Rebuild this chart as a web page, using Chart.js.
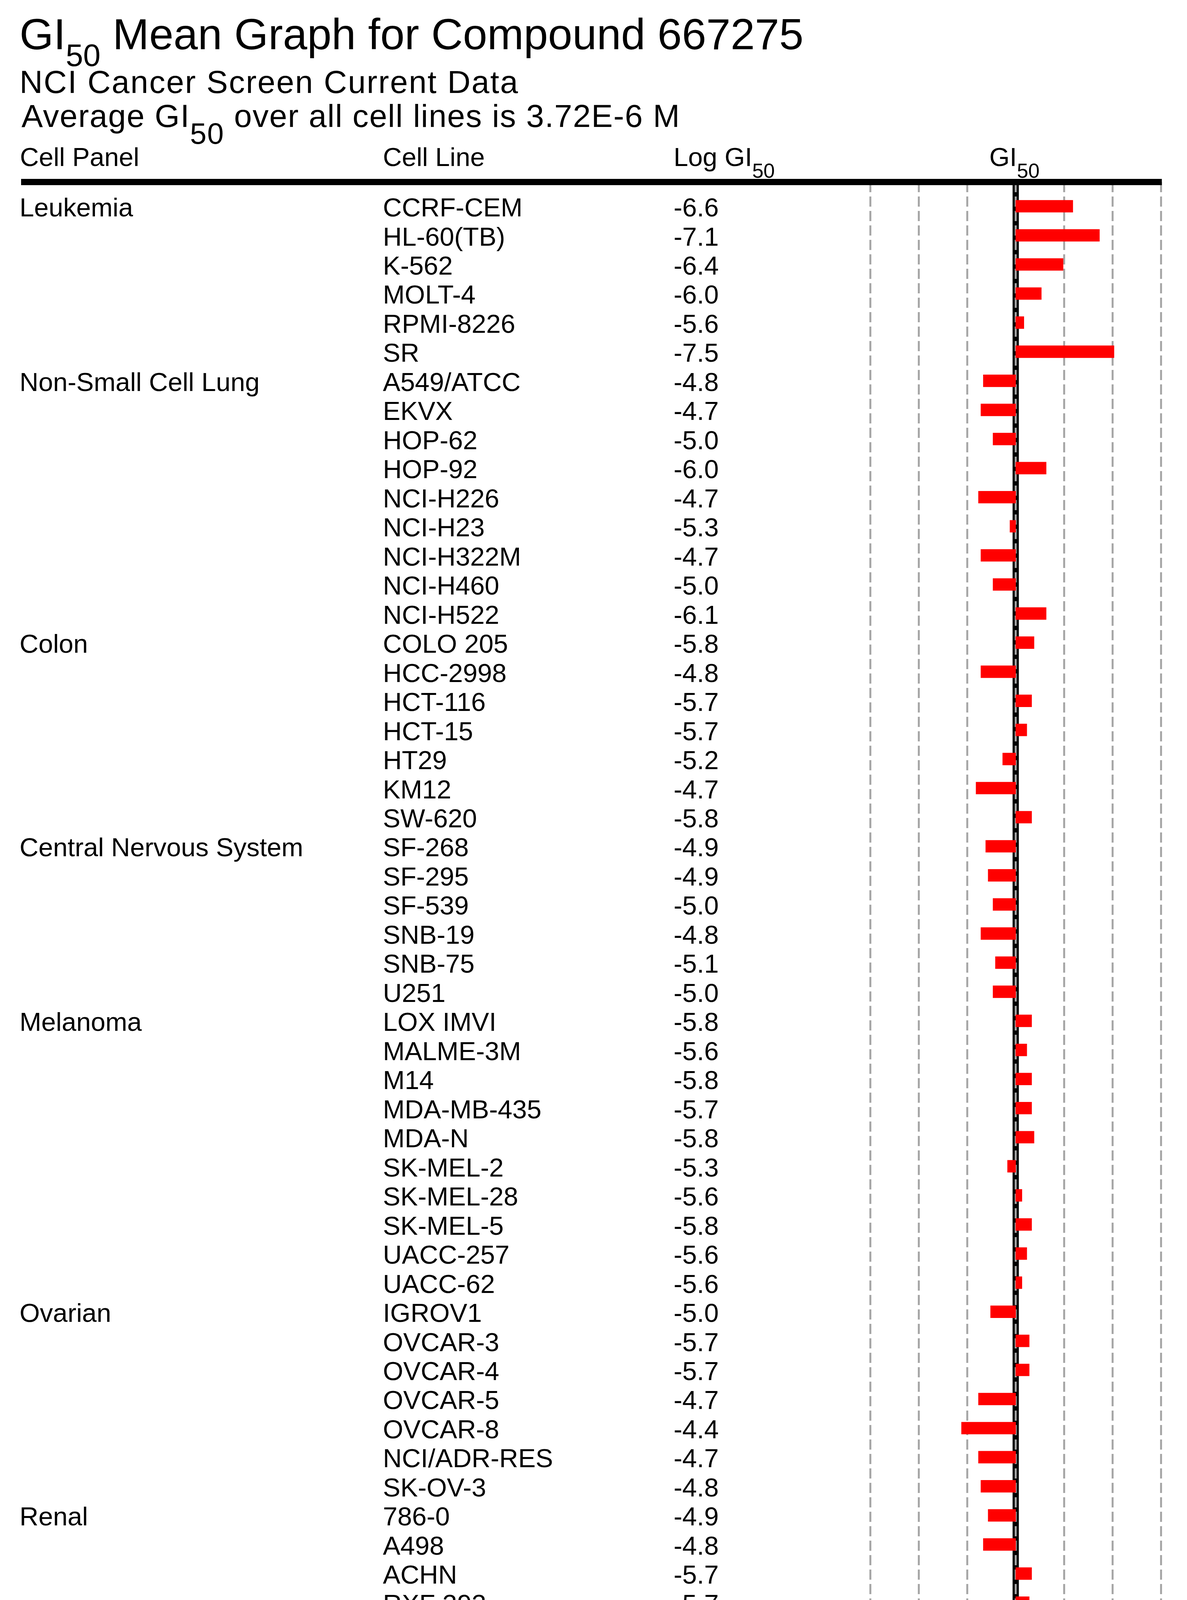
<!DOCTYPE html>
<html>
<head>
<meta charset="utf-8">
<title>GI50 Mean Graph for Compound 667275</title>
<script src="https://cdn.jsdelivr.net/npm/chart.js@4.4.1/dist/chart.umd.min.js"></script>
<style>
  html, body { margin: 0; padding: 0; background: #fff; }
  #page { position: relative; width: 3038px; height: 4975px; font-family: "Liberation Sans", Arial, Helvetica, sans-serif; color: #000; }
  #graph { position: absolute; left: 0; top: 0; }
  .txt { position: absolute; white-space: nowrap; line-height: 1; }
</style>
</head>
<body>
<div id="page">
  <canvas id="graph" width="3038" height="4975"></canvas>
  <div class="txt" style="left:50px; top:32px; font-size:112px">GI<span style="font-size:80px; vertical-align:-43px">50</span> Mean Graph for Compound 667275</div>
  <div class="txt" style="left:50px; top:169px; font-size:82px; letter-spacing:2.5px">NCI Cancer Screen Current Data</div>
  <div class="txt" style="left:55px; top:256px; font-size:82px; letter-spacing:1.8px">Average GI<span style="font-size:76px; vertical-align:-43px">50</span> over all cell lines is 3.72E-6 M</div>
  <div class="txt" style="left:51px; top:368px; font-size:67px">Cell Panel</div>
  <div class="txt" style="left:980px; top:368px; font-size:67px">Cell Line</div>
  <div class="txt" style="left:1724px; top:368px; font-size:67px">Log GI<span style="font-size:52px; vertical-align:-30px">50</span></div>
  <div class="txt" style="left:2532px; top:368px; font-size:67px">GI<span style="font-size:52px; vertical-align:-30px">50</span></div>
</div>
<script>
// panels and how many cell lines each one has, in order
const cellPanels = ['Leukemia', 'Non-Small Cell Lung', 'Colon', 'Central Nervous System',
  'Melanoma', 'Ovarian', 'Renal', 'Prostate', 'Breast']
const panelSizes = [6, 9, 7, 6, 10, 7, 7, 2, 5]

const cellLines = [
  'CCRF-CEM', 'HL-60(TB)', 'K-562', 'MOLT-4', 'RPMI-8226', 'SR',
  'A549/ATCC', 'EKVX', 'HOP-62', 'HOP-92', 'NCI-H226', 'NCI-H23', 'NCI-H322M', 'NCI-H460', 'NCI-H522',
  'COLO 205', 'HCC-2998', 'HCT-116', 'HCT-15', 'HT29', 'KM12', 'SW-620',
  'SF-268', 'SF-295', 'SF-539', 'SNB-19', 'SNB-75', 'U251',
  'LOX IMVI', 'MALME-3M', 'M14', 'MDA-MB-435', 'MDA-N', 'SK-MEL-2', 'SK-MEL-28', 'SK-MEL-5', 'UACC-257', 'UACC-62',
  'IGROV1', 'OVCAR-3', 'OVCAR-4', 'OVCAR-5', 'OVCAR-8', 'NCI/ADR-RES', 'SK-OV-3',
  '786-0', 'A498', 'ACHN', 'RXF 393', 'SN12C', 'TK-10', 'UO-31',
  'PC-3', 'DU-145',
  'MCF7', 'MDA-MB-231/ATCC', 'HS 578T', 'BT-549', 'T-47D'
]

const logGI50 = [
  '-6.6', '-7.1', '-6.4', '-6.0', '-5.6', '-7.5',
  '-4.8', '-4.7', '-5.0', '-6.0', '-4.7', '-5.3', '-4.7', '-5.0', '-6.1',
  '-5.8', '-4.8', '-5.7', '-5.7', '-5.2', '-4.7', '-5.8',
  '-4.9', '-4.9', '-5.0', '-4.8', '-5.1', '-5.0',
  '-5.8', '-5.6', '-5.8', '-5.7', '-5.8', '-5.3', '-5.6', '-5.8', '-5.6', '-5.6',
  '-5.0', '-5.7', '-5.7', '-4.7', '-4.4', '-4.7', '-4.8',
  '-4.9', '-4.8', '-5.7', '-5.7', '-5.5', '-5.6', '-5.8',
  '-5.0', '-5.1',
  '-5.7', '-5.7', '-5.1', '-5.7', '-5.7'
]

// bar length = difference from the mean log GI50
const barValues = [
  1.18, 1.73, 0.98, 0.53, 0.17, 2.03,
  -0.67, -0.72, -0.47, 0.63, -0.77, -0.12, -0.72, -0.47, 0.63,
  0.38, -0.72, 0.33, 0.23, -0.27, -0.82, 0.33,
  -0.62, -0.57, -0.47, -0.72, -0.42, -0.47,
  0.33, 0.23, 0.33, 0.33, 0.38, -0.17, 0.13, 0.33, 0.23, 0.13,
  -0.52, 0.28, 0.28, -0.77, -1.12, -0.77, -0.72,
  -0.57, -0.67, 0.33, 0.28, 0.08, 0.23, 0.33,
  -0.47, -0.42,
  0.28, 0.28, -0.37, 0.23, 0.28
]

const FONT = '"Liberation Sans", Arial, Helvetica, sans-serif'

// the heavy rules sit a third of a row inside the category bands
function ruleRows(chart) {
  const a = chart.chartArea
  const band = (a.bottom - a.top) / cellLines.length
  return { top: a.top - band / 3, bottom: a.bottom - band / 3 }
}

// zero line, dashed grid and the two heavy rules, all under the bars
const frameLines = {
  id: 'frameLines',
  beforeDatasetsDraw(chart) {
    const {ctx, chartArea: a, scales: {x}} = chart
    const r = ruleRows(chart)
    const x0 = x.getPixelForValue(0)
    ctx.save()
    ctx.fillStyle = '#000'
    ctx.fillRect(x0 - 8, r.top, 16, r.bottom - r.top)

    ctx.strokeStyle = '#a6a6a6'
    ctx.lineWidth = 5
    ctx.setLineDash([26, 11])
    x.ticks.forEach(t => {
      const px = x.getPixelForValue(t.value)
      ctx.beginPath()
      ctx.moveTo(px, r.top)
      ctx.lineTo(px, r.bottom)
      ctx.stroke()
    })
    ctx.setLineDash([])

    ctx.fillRect(54, r.top - 8, a.right + 2 - 54, 16)
    ctx.fillRect(a.left - 2, r.bottom - 8, a.right - a.left + 4, 16)
    ctx.restore()
  }
}

// the three text columns, one line per category row
const tableText = {
  id: 'tableText',
  afterDraw(chart) {
    const ctx = chart.ctx
    const y = chart.scales.y
    ctx.save()
    ctx.font = '67px ' + FONT
    ctx.fillStyle = '#000'
    ctx.textBaseline = 'alphabetic'
    let row = 0
    cellPanels.forEach((name, p) => {
      ctx.fillText(name, 50, y.getPixelForValue(row) + 26)
      row += panelSizes[p]
    })
    cellLines.forEach((name, i) => {
      const py = y.getPixelForValue(i) + 26
      ctx.fillText(name, 980, py)
      ctx.fillText(logGI50[i], 1724, py)
    })
    ctx.restore()
  }
}

new Chart(document.getElementById('graph'), {
  type: 'bar',
  data: {
    labels: cellLines,
    datasets: [{
      data: barValues,
      backgroundColor: '#ff0000',
      borderWidth: 0,
      barThickness: 31
    }]
  },
  options: {
    indexAxis: 'y',
    responsive: false,
    devicePixelRatio: 1,
    animation: false,
    layout: { padding: { left: 2227.6, right: 66.4, top: 490.8, bottom: 30.2 } },
    plugins: { legend: { display: false }, tooltip: { enabled: false } },
    scales: {
      x: {
        type: 'linear',
        position: 'bottom',
        min: -3,
        max: 3,
        afterFit: s => { s.height = 60 },
        grid: { display: false },
        border: { display: false },
        ticks: { stepSize: 1, align: 'start', padding: -22, color: '#333', font: { family: FONT, size: 62 } }
      },
      y: {
        type: 'category',
        offset: true,
        display: false
      }
    }
  },
  plugins: [frameLines, tableText]
})
</script>
</body>
</html>
